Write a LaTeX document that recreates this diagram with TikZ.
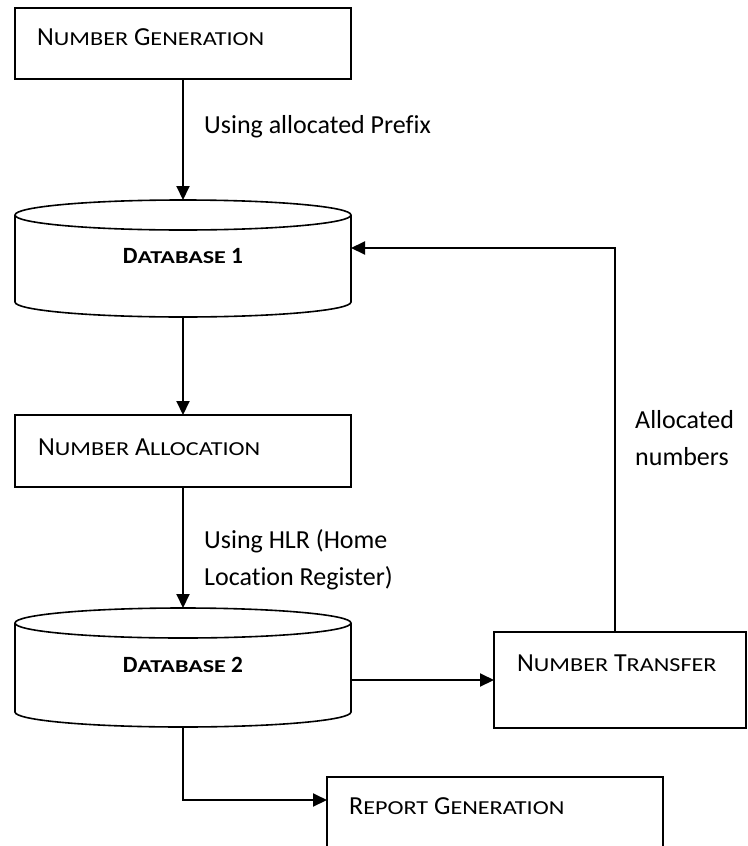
\documentclass[tikz,border=0pt]{standalone}
\usepackage{fontspec}
\setmainfont{Carlito}[Ligatures={NoCommon,NoContextual}]
\newfontfamily\scfam{Carlito}[FakeStretch=1.22, Ligatures={NoCommon,NoContextual}]
\newfontfamily\scfamb{Carlito}[FakeStretch=1.33, Ligatures={NoCommon,NoContextual}]
\usetikzlibrary{arrows.meta,calc}
\newcommand\smc[1]{{\scfam\fontsize{19.8}{22}\selectfont #1}}
\newcommand\smcb[1]{{\scfamb\bfseries\fontsize{18.1}{22}\selectfont #1}}
\tikzset{
  box/.style={draw, line width=2pt, minimum width=336pt, inner sep=0pt, outer sep=0pt},
  dbnode/.style={draw=none, minimum width=336pt, inner sep=0pt, outer sep=0pt},
  cylline/.style={line width=1.6pt},
  txt/.style={anchor=base west, inner sep=0pt, font=\fontsize{26}{37}\selectfont, align=left},
  dbtxt/.style={anchor=base, inner sep=0pt, font=\fontsize{23.3}{28}\selectfont\bfseries},
  arr/.style={line width=2pt, -{Triangle[length=14pt,width=13pt]}},
  ln/.style={line width=2pt}
}
\newcommand\cylpath[1]{%
  \draw[cylline] ($(#1.north)+(0,15)$) ellipse [x radius=168, y radius=15];
  \draw[cylline] ($(#1.north west)+(0,15)$) -- ($(#1.south west)+(0,-15)$)
     arc [start angle=180, end angle=0, x radius=168, y radius=15]
     -- ($(#1.north east)+(0,15)$);
}
\begin{document}
\begin{tikzpicture}[x=1pt,y=-1pt]
\useasboundingbox (0,0) rectangle (747,846);
\clip (0,0) rectangle (747,846);
% boxes
\node[box, minimum height=71pt] (ng) at (183,43.5) {};
\node[box, minimum height=72pt] (na) at (183,451) {};
\node[box, minimum width=252pt, minimum height=96pt] (nt) at (620,680) {};
\node[box, minimum height=100pt] (rg) at (495,827) {};
% databases
\node[dbnode, minimum height=117pt] (db1) at (183,258.5) {};
\node[dbnode, minimum height=119pt] (db2) at (183,667.5) {};
\cylpath{db1}
\cylpath{db2}
% texts
\node[txt] (ngt) at (37,45) {N\smc{UMBER} G\smc{ENERATION}};
\node[txt] (nat) at (38,455) {N\smc{UMBER} A\smc{LLOCATION}};
\node[txt] (ntt) at (517,671) {N\smc{UMBER} T\smc{RANSFER}};
\node[txt] (rgt) at (349,814) {R\smc{EPORT} G\smc{ENERATION}};
\node[dbtxt] (db1t) at (183,263) {D\smcb{ATABASE} 1};
\node[dbtxt] (db2t) at (183,672) {D\smcb{ATABASE} 2};
\node[txt] (l1) at (204,133) {Using allocated Prefix};
\node[txt] (l2) at (204,585) {Using HLR (Home\\Location Register)};
\node[txt] (l3) at (635,465) {Allocated\\numbers};
% connectors
\coordinate (fb) at (615,248);
\draw[arr] (ng.south) -- (db1.north);
\draw[arr] (db1.south) -- (na.north);
\draw[arr] (na.south) -- (db2.north);
\draw[arr] (db2.east |- nt.west) -- (nt.west);
\draw[arr] (nt.north -| fb) -- (fb) -- (db1.east |- fb);
\draw[arr] (db2.south) |- ($(rg.north west)+(0,23)$);
\end{tikzpicture}
\end{document}
